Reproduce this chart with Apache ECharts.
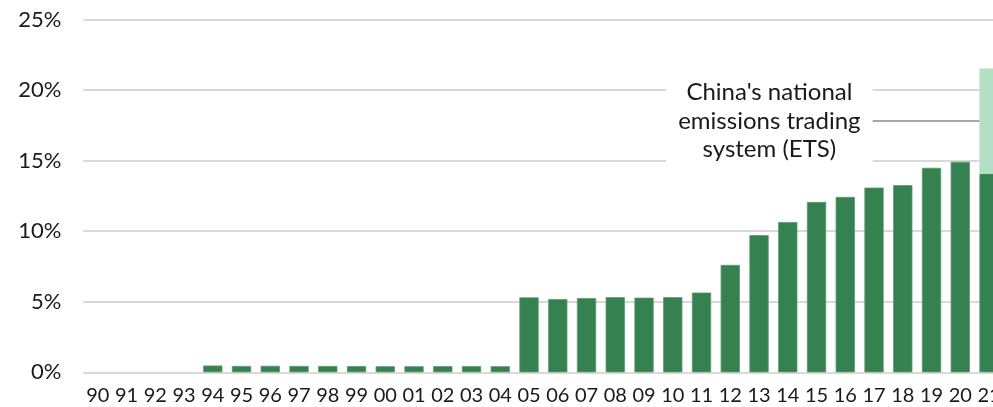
<!DOCTYPE html>
<html>
<head>
<meta charset="utf-8">
<script src="https://cdn.jsdelivr.net/npm/echarts@6/dist/echarts.min.js"></script>
<style>
  html, body { margin: 0; padding: 0; background: #ffffff; overflow: hidden; }
  /* the plot runs past the right edge of the page, so the last bar is clipped */
  #chart { width: 1004px; height: 407px; }
</style>
</head>
<body>
<div id="chart"></div>
<script>
// Share of China's CO2 emissions covered by carbon pricing (%), by year
const years = ['90','91','92','93','94','95','96','97','98','99','00','01','02','03','04',
               '05','06','07','08','09','10','11','12','13','14','15','16','17','18','19','20','21'];

// Existing schemes (no coverage before 1994)
const existingShare = [null, null, null, null, 0.48, 0.45, 0.46, 0.45, 0.45, 0.44, 0.43, 0.43, 0.44, 0.44, 0.43,
                       5.31, 5.19, 5.26, 5.33, 5.29, 5.33, 5.65, 7.61, 9.72, 10.65, 12.07, 12.43,
                       13.09, 13.26, 14.49, 14.92, 14.08];

// China's national ETS (added in 2021)
const nationalEts = [null, null, null, null, null, null, null, null, null, null, null, null, null, null, null,
                     null, null, null, null, null, null, null, null, null, null, null, null,
                     null, null, null, null, 7.45];

const yTicks = [0, 5, 10, 15, 20, 25];
const etsLabel = "China's national\nemissions trading\nsystem (ETS)";

const FONT = 'Lato, "DejaVu Sans", sans-serif';
const DARK = '#358150';
const LIGHT = '#b3dfc5';
const GAP = 0.33;

const chart = echarts.init(document.getElementById('chart'), null, { renderer: 'canvas' });

chart.setOption({
  animation: false,
  backgroundColor: '#ffffff',
  grid: { left: 83.4, top: 19.5, right: 0.6, bottom: 34.7, containLabel: false },
  xAxis: {
    type: 'category',
    data: years,
    axisLine: { show: false },
    axisTick: { show: false },
    axisLabel: { interval: 0, fontFamily: FONT, fontSize: 20, color: '#1a1a1a', margin: 13 }
  },
  yAxis: {
    type: 'value',
    min: yTicks[0],
    max: yTicks[yTicks.length - 1],
    interval: 5,
    axisLine: { show: false },
    axisTick: { show: false },
    axisLabel: { fontFamily: FONT, fontSize: 22, color: '#1a1a1a', margin: 22, formatter: v => v + '%' },
    splitLine: { lineStyle: { color: '#d9d9d9', width: 2 } }
  },
  series: [
    {
      name: 'Existing',
      type: 'bar',
      stack: 'share',
      data: existingShare,
      barCategoryGap: (GAP * 100) + '%',
      itemStyle: { color: DARK, borderColor: '#5d9a72', borderWidth: 0.8 }
    },
    {
      name: 'National ETS',
      type: 'bar',
      stack: 'share',
      data: nationalEts,
      itemStyle: { color: LIGHT }
    }
  ]
});

// Annotation: label with a leader line to the middle of the national ETS segment
function drawAnnotation() {
  const idx = years.length - 1;
  const base = existingShare[idx];
  const mid = base + nationalEts[idx] / 2;
  const p = chart.convertToPixel({ seriesIndex: 1 }, [idx, mid]);
  const bandW = chart.getModel().getComponent('xAxis', 0).axis.getBandWidth();
  const barW = bandW * (1 - GAP);
  const barLeft = p[0] - barW / 2;
  const lineStart = barLeft - 110;
  const textCenter = lineStart - 100;

  chart.setOption({
    graphic: [
      {
        type: 'line',
        z: 10,
        shape: { x1: lineStart, y1: p[1], x2: barLeft, y2: p[1] },
        style: { stroke: '#a6a6a6', lineWidth: 2 }
      },
      {
        type: 'text',
        z: 10,
        x: textCenter,
        y: p[1],
        style: {
          text: etsLabel,
          font: '24px ' + FONT,
          fill: '#1a1a1a',
          align: 'center',
          verticalAlign: 'middle',
          lineHeight: 28.5,
          backgroundColor: '#ffffff',
          padding: [2, 12, 2, 12]
        }
      }
    ]
  });
}
drawAnnotation();
</script>
</body>
</html>
